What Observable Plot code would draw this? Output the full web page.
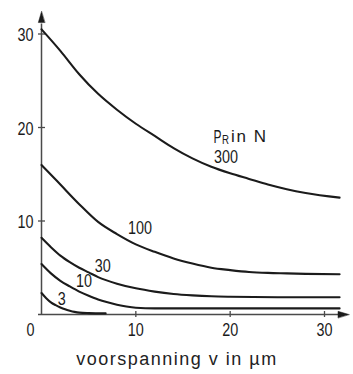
<!DOCTYPE html>
<html><head><meta charset="utf-8">
<script src="https://cdn.jsdelivr.net/npm/d3@7"></script>
<script src="https://cdn.jsdelivr.net/npm/@observablehq/plot@0.6"></script>
<style>body{margin:0;background:#fff}</style>
</head><body><div id="chart"></div>
<script>
// ---- data ----
const xTicks = [0, 10, 20, 30];
const yTicks = [10, 20, 30];

const x300 = [0, 2, 4, 6, 8, 10, 12, 14, 16, 18, 20, 22, 24, 26, 28, 31.6];
const y300 = [30.5, 28.2, 25.7, 23.6, 21.9, 20.4, 19.1, 17.8, 16.7, 15.8, 15.1, 14.5, 13.9, 13.4, 13.0, 12.5];

const x100 = [0, 2, 4, 6, 8, 10, 12, 14, 16, 18, 20, 22, 24, 26, 28, 31.6];
const y100 = [16.0, 13.9, 11.8, 9.9, 8.6, 7.5, 6.7, 6.0, 5.45, 5.0, 4.75, 4.55, 4.45, 4.4, 4.35, 4.3];

const x30 = [0, 1, 2, 3, 4, 5, 6, 8, 10, 12, 14, 16, 18, 20, 25, 31.6];
const y30 = [8.2, 7.2, 6.3, 5.6, 5.0, 4.5, 4.0, 3.3, 2.8, 2.45, 2.2, 2.05, 1.95, 1.9, 1.85, 1.85];

const x10 = [0, 1, 2, 3, 4, 5, 6, 7, 8, 9, 10, 12, 31.6];
const y10 = [5.4, 4.4, 3.6, 3.0, 2.45, 2.0, 1.6, 1.3, 1.05, 0.85, 0.72, 0.65, 0.65];

const x3 = [0, 0.5, 1, 1.5, 2, 2.5, 3, 3.5, 4, 5, 6.8];
const y3 = [2.3, 1.75, 1.3, 1.0, 0.75, 0.55, 0.4, 0.28, 0.2, 0.15, 0.12];

const seriesNames = ["300", "100", "30", "10", "3"];
const seriesX = [x300, x100, x30, x10, x3];
const seriesY = [y300, y100, y30, y10, y3];

// label anchor positions (data units)
const labelText = ["300", "100", "30", "10", "3"];
const labelX = [19.55, 10.45, 6.5, 4.5, 2.15];
const labelY = [16.85, 9.2, 5.2, 3.6, 1.6];

const legendX = 18.24, legendY = 19.0;
const axisEndX = 32.6, axisEndY = 32.4;
const xTitle = "voorspanning v in µm";

// ---- build tables ----
const rows = seriesNames.flatMap((s, k) => seriesX[k].map((x, i) => ({series: s, x, y: seriesY[k][i]})));
const labels = labelText.map((t, i) => ({text: t, x: labelX[i], y: labelY[i]}));

const FONT = "'Liberation Sans', Arial, sans-serif";
const INK = "#1b1b1b";
const AXIS = "#4a4a4a";

const arrowShape = {
  draw(context, l, r) {
    context.moveTo(0, -l);
    context.lineTo(-3.2, 0);
    context.lineTo(3.2, 0);
    context.closePath();
  }
};

const chart = Plot.plot({
  width: 353,
  height: 374,
  marginLeft: 0, marginRight: 0, marginTop: 0, marginBottom: 0,
  x: {domain: [0, 30], range: [41, 324], axis: null},
  y: {domain: [0, 30], range: [314, 33.5], axis: null},
  style: {background: "#fff"},
  marks: [
    // axes
    Plot.ruleY([0], {x1: 0, x2: axisEndX - 1, insetLeft: -3, stroke: AXIS, strokeWidth: 1.5}),
    Plot.ruleX([0], {y1: 0, y2: axisEndY - 1, insetBottom: -3, stroke: AXIS, strokeWidth: 1.5}),
    Plot.vector([{x: axisEndX, y: 0}], {x: "x", y: "y", rotate: 90, length: 11, anchor: "end", shape: arrowShape, fill: INK, stroke: INK, strokeWidth: 0.5}),
    Plot.vector([{x: 0, y: axisEndY}], {x: "x", y: "y", rotate: 0, length: 11, anchor: "end", shape: arrowShape, fill: INK, stroke: INK, strokeWidth: 0.5}),
    // ticks crossing the axes
    Plot.ruleX(xTicks.filter(d => d > 0), {x: d => d, y1: 0, y2: 0, insetTop: -3, insetBottom: -3, stroke: AXIS, strokeWidth: 1.3}),
    Plot.ruleY(yTicks, {y: d => d, x1: 0, x2: 0, insetLeft: -3, insetRight: -4, stroke: AXIS, strokeWidth: 1.3}),
    // tick labels
    Plot.text(yTicks, {x: 0, y: d => d, text: d => String(d), textAnchor: "end", dx: -8, dy: 1.5, fontSize: 18, fontFamily: FONT, fill: INK}),
    Plot.text(xTicks.filter(d => d > 0), {x: d => d, y: 0, text: d => String(d), dy: 16, fontSize: 18, fontFamily: FONT, fill: INK}),
    Plot.text([0], {x: 0, y: 0, text: d => String(d), dx: -11, dy: 16, fontSize: 18, fontFamily: FONT, fill: INK}),
    // curves
    Plot.line(rows, {x: "x", y: "y", z: "series", curve: "monotone-x", stroke: INK, strokeWidth: 2.1}),
    // curve labels
    Plot.text(labels, {x: "x", y: "y", text: "text", fontSize: 18, fontFamily: FONT, fill: INK}),
    // legend title  P_R in N
    Plot.text([0], {x: legendX, y: legendY, text: () => "P", textAnchor: "start", fontSize: 18, fontFamily: FONT, fill: INK}),
    Plot.text([0], {x: legendX, y: legendY, text: () => "R", textAnchor: "start", dx: 8.5, dy: 3, fontSize: 12, fontFamily: FONT, fill: INK}),
    Plot.text([0], {x: legendX, y: legendY, text: () => "in N", textAnchor: "start", dx: 17.5, fontSize: 17, fontFamily: FONT, fill: INK}),
    // x title
    Plot.text([xTitle], {frameAnchor: "bottom", text: d => d, dy: -10, fontSize: 18, fontFamily: FONT, fill: "#222"})
  ]
});
document.getElementById("chart").appendChild(chart);

// condensed lettering (the reference uses a narrow technical font)
const texts = d3.select(chart).selectAll("text");
texts.each(function() {
  const t = this.textContent;
  const s = d3.select(this);
  if (/^[0-9]+$/.test(t)) {
    s.attr("textLength", t.length * 8).attr("lengthAdjust", "spacingAndGlyphs");
  } else if (t === "P") {
    s.attr("textLength", 8).attr("lengthAdjust", "spacingAndGlyphs");
  } else if (t === "R") {
    s.attr("textLength", 7).attr("lengthAdjust", "spacingAndGlyphs");
  } else if (t === "in N") {
    s.attr("textLength", 35).attr("lengthAdjust", "spacing");
  } else if (t === xTitle) {
    s.style("letter-spacing", "1.5px");
  }
});
</script>
</body></html>
